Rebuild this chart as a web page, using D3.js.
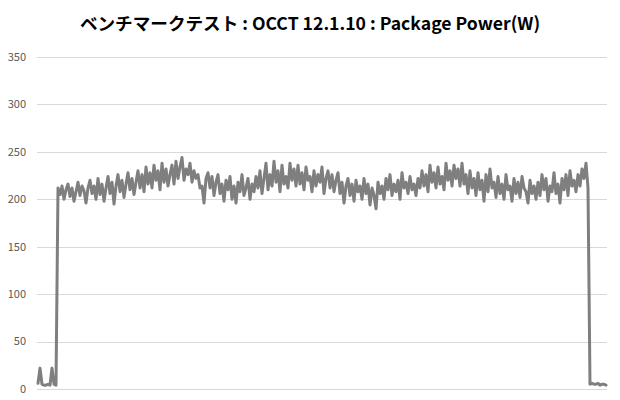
<!DOCTYPE html>
<html>
<head>
<meta charset="utf-8">
<script src="https://cdn.jsdelivr.net/npm/d3@7"></script>
<style>
  html, body { margin: 0; padding: 0; background: #fff; }
  #chart { width: 620px; height: 400px; }
  .tick-label { font-family: "Noto Sans CJK JP", "Noto Sans", sans-serif; font-size: 11px; fill: #595959; }
  .title { font-family: "Noto Sans CJK JP", sans-serif; font-size: 17.6px; font-weight: bold; fill: #000; }
</style>
</head>
<body>
<div id="chart"></div>
<script>
const titleText = "ベンチマークテスト : OCCT 12.1.10 : Package Power(W)";
const yTicks = [0, 50, 100, 150, 200, 250, 300, 350];

// idle before the test
const idleStart = [6, 22, 5, 4, 4, 5, 4, 22, 5, 4];
// load phase
const loadPhase = [
  212, 205, 214, 200, 210, 216, 203, 212, 198, 208, 218, 204, 214, 209, 196, 212, 220, 206, 214, 200,
  222, 205, 216, 198, 212, 224, 206, 218, 195, 214, 226, 208, 220, 202, 216, 228, 210, 222, 205, 218,
  230, 212, 226, 208, 234, 216, 228, 212, 236, 220, 230, 210, 238, 218, 232, 214, 226, 236, 216, 240,
  222, 234, 244, 220, 232, 226, 238, 218, 230, 222, 226, 212, 214, 196, 222, 228, 212, 224, 204, 218,
  226, 206, 216, 198, 220, 210, 224, 200, 214, 196, 218, 208, 226, 204, 212, 222, 200, 216, 208, 224,
  212, 230, 206, 222, 238, 210, 226, 214, 240, 218, 230, 208, 236, 216, 224, 212, 238, 220, 232, 214,
  236, 216, 228, 210, 234, 220, 224, 208, 230, 214, 226, 218, 234, 206, 222, 230, 212, 226, 208, 220,
  228, 206, 218, 196, 214, 222, 204, 216, 198, 220, 208, 214, 200, 222, 206, 216, 194, 212, 204, 190,
  218, 206, 214, 200, 222, 210, 226, 204, 216, 208, 220, 200, 228, 212, 218, 206, 224, 210, 216, 204,
  222, 212, 230, 214, 226, 208, 236, 218, 228, 212, 234, 216, 224, 210, 238, 220, 230, 214, 236, 222,
  232, 214, 238, 216, 226, 206, 230, 212, 222, 204, 228, 210, 220, 198, 226, 208, 232, 212, 218, 202,
  224, 206, 216, 200, 226, 210, 214, 198, 222, 206, 218, 202, 224, 212, 208, 196, 220, 206, 214, 200,
  218, 204, 226, 210, 222, 198, 214, 208, 228, 206, 216, 196, 222, 210, 226, 204, 230, 214, 220, 208,
  226, 214, 232, 222, 238, 212
];
// idle after the test
const idleEnd = [5, 6, 5, 5, 6, 4, 5, 5, 4];

const values = idleStart.concat(loadPhase, idleEnd);

const width = 620, height = 400;
const margin = { left: 37, right: 13, top: 57, bottom: 11 };

const svg = d3.select("#chart").append("svg")
  .attr("width", width)
  .attr("height", height);

svg.append("text")
  .attr("class", "title")
  .attr("x", 310)
  .attr("y", 30)
  .attr("text-anchor", "middle")
  .text(titleText);

const x = d3.scaleLinear()
  .domain([0, values.length - 1])
  .range([margin.left + 1, width - margin.right - 1]);

const y = d3.scaleLinear()
  .domain([0, 350])
  .range([height - margin.bottom, margin.top]);

const grid = svg.append("g");
grid.selectAll("line")
  .data(yTicks)
  .join("line")
  .attr("x1", margin.left)
  .attr("x2", width - margin.right)
  .attr("y1", d => Math.round(y(d)) + 0.5)
  .attr("y2", d => Math.round(y(d)) + 0.5)
  .attr("stroke", "#d9d9d9")
  .attr("stroke-width", 1);

svg.append("g")
  .selectAll("text")
  .data(yTicks)
  .join("text")
  .attr("class", "tick-label")
  .attr("x", 26)
  .attr("y", d => y(d))
  .attr("dy", "0.35em")
  .attr("text-anchor", "end")
  .text(d => d);

const line = d3.line()
  .x((d, i) => x(i))
  .y(d => y(d));

svg.append("path")
  .datum(values)
  .attr("d", line)
  .attr("fill", "none")
  .attr("stroke", "#7f7f7f")
  .attr("stroke-width", 3)
  .attr("stroke-linejoin", "round")
  .attr("stroke-linecap", "round");
</script>
</body>
</html>
